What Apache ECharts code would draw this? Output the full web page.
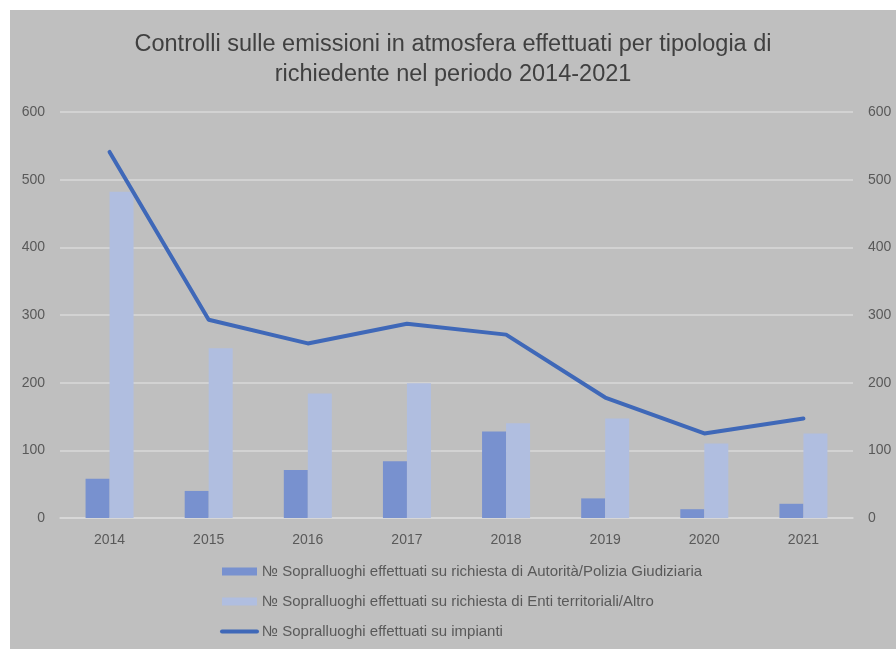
<!DOCTYPE html>
<html><head><meta charset="utf-8">
<script src="https://cdn.jsdelivr.net/npm/echarts@6/dist/echarts.min.js"></script>
<style>
html,body{margin:0;padding:0;background:#fff;}
#c{position:absolute;left:10px;top:10px;width:886px;height:639px;background:#bfbfbf;}
</style></head><body>
<div id="c"></div>
<script>
const years = ['2014','2015','2016','2017','2018','2019','2020','2021'];
const autorita = [58, 40, 71, 84, 128, 29, 13, 21];
const enti = [482, 251, 184, 199, 140, 147, 110, 125];
const impianti = [541, 293, 258, 287, 271, 178, 125, 147];
const yTicks = [0, 100, 200, 300, 400, 500, 600];

const nameA = '№ Sopralluoghi effettuati su richiesta di Autorità/Polizia Giudiziaria';
const nameB = '№ Sopralluoghi effettuati su richiesta di Enti territoriali/Altro';
const nameC = '№ Sopralluoghi effettuati su impianti';

const FONT = "'Liberation Sans', sans-serif";
const chart = echarts.init(document.getElementById('c'));
const yAxisCommon = {
  type: 'value', min: yTicks[0], max: yTicks[yTicks.length-1], interval: 100,
  axisLine: {show: false}, axisTick: {show: false},
  axisLabel: {color: '#595959', fontSize: 14, fontFamily: FONT, margin: 15},
};
chart.setOption({
  backgroundColor: 'transparent',
  title: {
    text: 'Controlli sulle emissioni in atmosfera effettuati per tipologia di\nrichiedente nel periodo 2014-2021',
    left: 'center', top: 15,
    textStyle: {color: '#404040', fontSize: 23.5, fontWeight: 'normal', fontFamily: FONT, lineHeight: 30}
  },
  grid: {left: 50, right: 43, top: 102, bottom: 131, containLabel: false},
  legend: {
    orient: 'vertical', left: 205, top: 549, itemGap: 15, itemWidth: 35, itemHeight: 8,
    textStyle: {color: '#595959', fontSize: 15, fontFamily: FONT},
    data: [
      {name: nameA, icon: 'rect'},
      {name: nameB, icon: 'rect'},
      {name: nameC, itemStyle: {opacity: 0}, lineStyle: {width: 4, color: '#3f68b8', opacity: 1}}
    ]
  },
  xAxis: {
    type: 'category', data: years,
    axisLine: {lineStyle: {color: '#d9d9d9', width: 1.5}}, axisTick: {show: false},
    axisLabel: {color: '#595959', fontSize: 14, fontFamily: FONT, margin: 15}
  },
  yAxis: [
    Object.assign({}, yAxisCommon, {position: 'left', splitLine: {lineStyle: {color: '#d9d9d9', width: 1.5}}}),
    Object.assign({}, yAxisCommon, {position: 'right', splitLine: {show: false}})
  ],
  series: [
    {name: nameA, type: 'bar', data: autorita, barWidth: 24, barGap: '0%', itemStyle: {color: '#7891cf'}, yAxisIndex: 0},
    {name: nameB, type: 'bar', data: enti, barWidth: 24, barGap: '0%', itemStyle: {color: '#b0bee0'}, yAxisIndex: 0},
    {name: nameC, type: 'line', data: impianti, yAxisIndex: 1, symbol: 'none',
     lineStyle: {color: '#3f68b8', width: 4, cap: 'round', join: 'round'}, itemStyle: {color: '#3f68b8'}}
  ]
});
</script>
</body></html>
